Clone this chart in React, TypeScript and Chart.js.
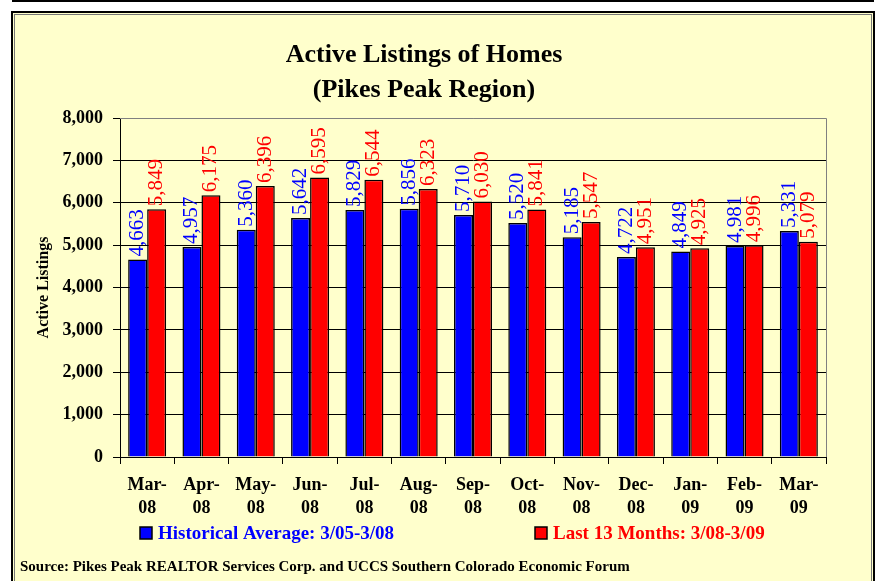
import React, { useEffect, useRef } from 'react';
import { Chart, registerables } from 'chart.js';

Chart.register(...registerables);

const categories: string[][] = [
  ['Mar-', '08'], ['Apr-', '08'], ['May-', '08'], ['Jun-', '08'], ['Jul-', '08'],
  ['Aug-', '08'], ['Sep-', '08'], ['Oct-', '08'], ['Nov-', '08'], ['Dec-', '08'],
  ['Jan-', '09'], ['Feb-', '09'], ['Mar-', '09'],
];
const historical = [4663, 4957, 5360, 5642, 5829, 5856, 5710, 5520, 5185, 4722, 4849, 4981, 5331];
const last13 = [5849, 6175, 6396, 6595, 6544, 6323, 6030, 5841, 5547, 4951, 4925, 4996, 5079];
const seriesNames = ['Historical Average: 3/05-3/08', 'Last 13 Months: 3/08-3/09'];
const seriesColors = ['#0000FF', '#FF0000'];
const titleLines = ['Active Listings of Homes', '(Pikes Peak Region)'];
const yAxisTitle = 'Active Listings';
const yMin = 0;
const yMax = 8000;
const yStep = 1000;
const sourceText = 'Source: Pikes Peak REALTOR Services Corp. and UCCS Southern Colorado Economic Forum';

const SERIF = "'Liberation Serif', 'Times New Roman', serif";
const BG = '#FFFFCC';
const fmt = (v: number) => Number(v).toLocaleString('en-US');

const framePlugin = {
  id: 'frame',
  beforeDraw(chart: any) {
    const { ctx, width, height } = chart;
    ctx.save();
    ctx.fillStyle = '#FFFFFF';
    ctx.fillRect(0, 0, width, height);
    ctx.fillStyle = '#000';
    ctx.fillRect(12, 0, 862, 2);
    ctx.fillStyle = BG;
    ctx.fillRect(12, 12, 862, height);
    ctx.strokeStyle = '#000';
    ctx.lineWidth = 2;
    ctx.strokeRect(12, 12, 862, height + 10);
    ctx.strokeStyle = '#777';
    ctx.lineWidth = 1;
    ctx.strokeRect(14.5, 14.5, 857, height + 10);
    ctx.restore();
  },
  beforeDatasetsDraw(chart: any) {
    const { ctx, chartArea } = chart;
    ctx.save();
    ctx.strokeStyle = '#808080';
    ctx.lineWidth = 1;
    ctx.beginPath();
    ctx.moveTo(chartArea.left, Math.round(chartArea.top) + 0.5);
    ctx.lineTo(Math.round(chartArea.right) + 0.5, Math.round(chartArea.top) + 0.5);
    ctx.lineTo(Math.round(chartArea.right) + 0.5, chartArea.bottom);
    ctx.stroke();
    ctx.restore();
  },
};

const valueLabelPlugin = {
  id: 'valueLabels',
  afterDatasetsDraw(chart: any) {
    const { ctx } = chart;
    ctx.save();
    ctx.font = `21px ${SERIF}`;
    ctx.textAlign = 'left';
    ctx.textBaseline = 'middle';
    chart.data.datasets.forEach((ds: any, i: number) => {
      const meta = chart.getDatasetMeta(i);
      ctx.fillStyle = seriesColors[i];
      meta.data.forEach((bar: any, j: number) => {
        ctx.save();
        ctx.translate(bar.x, bar.y - 3);
        ctx.rotate(-Math.PI / 2);
        ctx.fillText(fmt(ds.data[j]), 0, 0);
        ctx.restore();
      });
    });
    ctx.restore();
  },
};

const legendSourcePlugin = {
  id: 'legendSource',
  afterDraw(chart: any) {
    const { ctx } = chart;
    ctx.save();
    const boxX = [140, 535];
    chart.data.datasets.forEach((ds: any, i: number) => {
      ctx.fillStyle = ds.backgroundColor;
      ctx.fillRect(boxX[i], 527, 12, 12);
      ctx.strokeStyle = '#000';
      ctx.lineWidth = 1.5;
      ctx.strokeRect(boxX[i], 527, 12, 12);
      ctx.font = `bold 19px ${SERIF}`;
      ctx.fillStyle = seriesColors[i];
      ctx.textAlign = 'left';
      ctx.textBaseline = 'alphabetic';
      ctx.fillText(ds.label, boxX[i] + 18, 539);
    });
    ctx.font = `bold 15px ${SERIF}`;
    ctx.fillStyle = '#000';
    ctx.textAlign = 'left';
    ctx.textBaseline = 'alphabetic';
    ctx.fillText(sourceText, 20, 571);
    ctx.restore();
  },
};

export default function App() {
  const canvasRef = useRef<HTMLCanvasElement | null>(null);

  useEffect(() => {
    if (!canvasRef.current) return;
    const chart = new Chart(canvasRef.current, {
      type: 'bar',
      data: {
        labels: categories,
        datasets: [
          {
            label: seriesNames[0],
            data: historical,
            backgroundColor: seriesColors[0],
            borderColor: '#000',
            borderWidth: 1.5,
          },
          {
            label: seriesNames[1],
            data: last13,
            backgroundColor: seriesColors[1],
            borderColor: '#000',
            borderWidth: 1.5,
          },
        ],
      },
      options: {
        animation: false,
        responsive: false,
        devicePixelRatio: 1,
        layout: { padding: { left: 22, right: 54, top: 0, bottom: 0 } },
        datasets: { bar: { categoryPercentage: 0.7, barPercentage: 1.0 } },
        plugins: {
          legend: { display: false },
          tooltip: { enabled: false },
          title: {
            display: true,
            text: titleLines,
            color: '#000',
            font: { family: SERIF, size: 26, weight: 'bold', lineHeight: 35 / 26 },
            padding: { top: 38, bottom: 10 },
          },
        },
        scales: {
          x: {
            afterFit: (scale: any) => { scale.height = 124; },
            grid: {
              display: true,
              offset: true,
              drawOnChartArea: false,
              drawTicks: true,
              tickLength: 7,
              color: '#000',
            },
            border: { display: true, color: '#000', width: 1 },
            ticks: {
              color: '#000',
              padding: 10,
              maxRotation: 0,
              autoSkip: false,
              font: { family: SERIF, size: 18, weight: 'bold', lineHeight: 23 / 18 },
            },
          },
          y: {
            min: yMin,
            max: yMax,
            afterFit: (scale: any) => { scale.width = 98; },
            grid: {
              color: (c: any) => (c.tick && c.tick.value === yMax ? '#808080' : '#000'),
              tickColor: '#000',
              tickLength: 7,
              drawTicks: true,
            },
            border: { display: true, color: '#000', width: 1 },
            ticks: {
              stepSize: yStep,
              color: '#000',
              padding: 10,
              callback: (v: any) => fmt(v),
              font: { family: SERIF, size: 18, weight: 'bold' },
            },
            title: {
              display: true,
              text: yAxisTitle,
              color: '#000',
              padding: { top: 12, bottom: 0 },
              font: { family: SERIF, size: 16, weight: 'bold' },
            },
          },
        },
      },
      plugins: [framePlugin, valueLabelPlugin, legendSourcePlugin],
    } as any);
    return () => chart.destroy();
  }, []);

  return (
    <div style={{ position: 'absolute', left: 0, top: 0, width: 880, height: 581 }}>
      <canvas ref={canvasRef} width={880} height={581} style={{ display: 'block' }} />
    </div>
  );
}
